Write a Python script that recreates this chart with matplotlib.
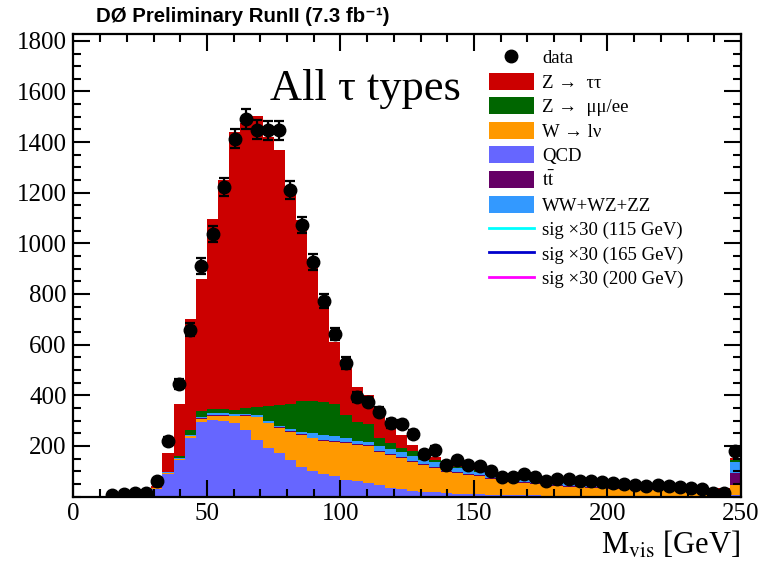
import numpy as np
import matplotlib
matplotlib.use('Agg')
import matplotlib.pyplot as plt
from matplotlib.patches import Patch
from matplotlib.lines import Line2D
from matplotlib.ticker import MultipleLocator

plt.rcParams['mathtext.fontset'] = 'stix'

# 60 bins from 0 to 250 GeV (last bin holds overflow)
edges = np.linspace(0, 250, 61)
centers = 0.5 * (edges[:-1] + edges[1:])

qcd = [0, 0, 0, 0, 0, 0, 0, 30, 88, 143, 230, 296, 302, 298, 289, 263, 223, 190, 171, 144,
       115, 100, 88, 80, 65, 60, 55, 45, 33, 30, 22, 19, 16, 13, 11, 9, 8, 7, 6, 5,
       4, 4, 3, 3, 3, 3, 2, 2, 2, 2, 2, 2, 2, 2, 2, 1, 1, 1, 1, 5]
wlnu = [0, 0, 0, 0, 0, 0, 0, 2, 5, 5, 8, 12, 18, 22, 28, 55, 90, 99, 99, 112,
        128, 130, 132, 135, 146, 145, 145, 132, 131, 122, 116, 106, 95, 85, 81, 76, 72, 63, 59, 53,
        48, 44, 40, 38, 36, 34, 32, 30, 28, 27, 26, 25, 24, 23, 22, 21, 20, 19, 18, 40]
ttbar = [0, 0, 0, 0, 0, 0, 0, 0, 1, 1, 1, 1, 3, 3, 3, 3, 3, 3, 3, 3,
         3, 3, 3, 3, 3, 3, 4, 4, 4, 4, 4, 4, 4, 4, 4, 4, 4, 4, 4, 4,
         4, 4, 4, 4, 4, 4, 4, 4, 4, 4, 4, 4, 4, 4, 4, 4, 4, 4, 4, 48]
diboson = [0, 0, 0, 0, 0, 0, 0, 0, 1, 2, 3, 4, 5, 5, 5, 5, 6, 6, 7, 7,
           10, 18, 20, 20, 17, 12, 11, 20, 20, 19, 20, 17, 20, 16, 15, 15, 14, 12, 11, 10,
           9, 8, 8, 12, 12, 7, 6, 6, 5, 5, 5, 4, 4, 4, 4, 3, 3, 3, 3, 45]
zmumu = [0, 0, 0, 0, 0, 0, 0, 0, 3, 10, 20, 25, 16, 16, 16, 23, 33, 59, 82, 100,
         122, 127, 130, 129, 91, 75, 70, 32, 25, 18, 16, 12, 10, 8, 7, 6, 5, 5, 4, 4,
         3, 3, 3, 3, 3, 3, 3, 3, 3, 3, 3, 3, 3, 3, 3, 3, 3, 3, 3, 7]
ztautau = [0, 0, 0, 0, 0, 0, 0, 8, 75, 204, 438, 522, 753, 908, 1099, 1126, 1150, 1065, 1005, 853,
           715, 562, 402, 245, 217, 139, 116, 97, 77, 50, 26, 19, 11, 12, 10, 8, 7, 9, 8, 10,
           12, 13, 14, 10, 8, 11, 11, 10, 10, 9, 8, 8, 7, 6, 5, 6, 5, 4, 3, 7]
data = [0, 0, 0, 5, 10, 15, 12, 61, 220, 445, 658, 911, 1037, 1223, 1413, 1491, 1449, 1446, 1446, 1211,
        1073, 927, 772, 642, 528, 394, 375, 335, 289, 287, 246, 168, 184, 124, 144, 124, 120, 102, 76, 78,
        89, 76, 63, 70, 68, 62, 60, 58, 55, 50, 45, 42, 45, 40, 38, 35, 30, 15, 12, 180]

layers = [
    (qcd, '#6666ff', 'QCD'),
    (wlnu, '#ff9900', 'W \u2192 l\u03bd'),
    (ttbar, '#660066', r'$\mathrm{t\bar{t}}$'),
    (diboson, '#3399ff', 'WW+WZ+ZZ'),
    (zmumu, '#006600', 'Z \u2192  \u03bc\u03bc/ee'),
    (ztautau, '#cc0000', 'Z \u2192  \u03c4\u03c4'),
]

fig = plt.figure(figsize=(7.6, 5.69), dpi=100)
ax = fig.add_axes([0.0967, 0.1274, 0.8783, 0.8128])

bottom = np.zeros(60)
for vals, col, lab in layers:
    top = bottom + np.array(vals, dtype=float)
    ax.stairs(top, edges, baseline=bottom, fill=True, color=col, lw=0, zorder=1)
    bottom = top

data = np.array(data, dtype=float)
m = data > 0
ax.errorbar(centers[m], data[m], yerr=np.sqrt(data[m]), fmt='o', color='black',
            ms=9, capsize=3.5, elinewidth=1.6, capthick=1.6, zorder=3)

ax.set_xlim(0, 250)
ax.set_ylim(0, 1827)
ax.xaxis.set_major_locator(MultipleLocator(50))
ax.xaxis.set_minor_locator(MultipleLocator(10))
ax.set_yticks(np.arange(200, 1801, 200))
ax.yaxis.set_minor_locator(MultipleLocator(50))
ax.tick_params(which='both', direction='in', top=True, right=True, width=1.5)
ax.tick_params(which='major', length=12, labelsize=18, pad=5)
ax.tick_params(which='minor', length=6)
for lab in ax.get_xticklabels() + ax.get_yticklabels():
    lab.set_family('Liberation Serif')
for s in ax.spines.values():
    s.set_linewidth(1.6)

fig.text(740 / 760, 1 - 545 / 569, r'M$_{\mathrm{vis}}$ [GeV]', ha='right', va='center',
         fontsize=22, family='Liberation Serif')
fig.text(96 / 760, 1 - 17 / 569, 'D\u00d8 Preliminary RunII (7.3 fb\u207b\u00b9)',
         ha='left', va='center', fontsize=14.7, fontweight='bold',
         family=['Liberation Sans', 'DejaVu Sans'])
fig.text(270 / 760, 1 - 89 / 569, 'All \u03c4 types', ha='left', va='center',
         fontsize=32, family=['Liberation Serif', 'DejaVu Serif'])

# legend
handles = [Line2D([], [], marker='o', ls='none', color='black', ms=9)]
labels = ['data']
leg_order = [5, 4, 1, 0, 2, 3]
for k in leg_order:
    handles.append(Patch(facecolor=layers[k][1], edgecolor='none'))
    labels.append(layers[k][2])
for col, mass in [('#00ffff', 115), ('#0000cc', 165), ('#ff00ff', 200)]:
    handles.append(Line2D([], [], color=col, lw=2))
    labels.append('sig \u00d730 (%d GeV)' % mass)

leg = ax.legend(handles, labels, loc='upper left', bbox_to_anchor=(0.622, 0.9685),
                frameon=False, borderpad=0, borderaxespad=0, handlelength=2.4,
                handleheight=1.0, handletextpad=0.45, labelspacing=0.30,
                prop={'family': ['Liberation Serif', 'DejaVu Serif'], 'size': 13.5})

fig.savefig('out.png', dpi=100)
